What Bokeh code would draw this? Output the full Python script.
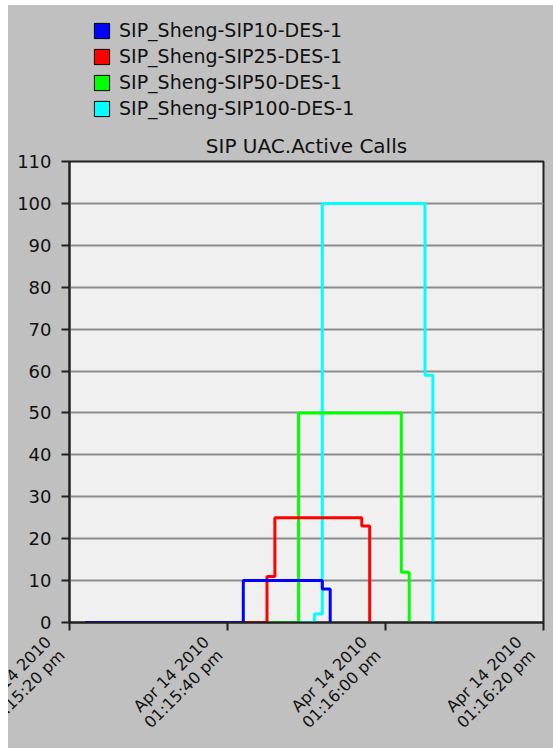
import math

from bokeh.embed import file_html
from bokeh.layouts import column
from bokeh.models import FixedTicker, Legend, LegendItem, Range1d, Title
from bokeh.plotting import figure
from bokeh.resources import INLINE

# Active-call counts per load generator (clock time, calls)
series_names = [
    "SIP_Sheng-SIP10-DES-1",
    "SIP_Sheng-SIP25-DES-1",
    "SIP_Sheng-SIP50-DES-1",
    "SIP_Sheng-SIP100-DES-1",
]
series_colors = ["#0000FF", "#FF0000", "#00FF00", "#00FFFF"]

sip10_times = ["13:15:22", "13:15:42", "13:15:52", "13:15:53"]
sip10_calls = [0, 10, 8, 0]

sip25_times = ["13:15:22", "13:15:45", "13:15:46", "13:15:57", "13:15:58"]
sip25_calls = [0, 11, 25, 23, 0]

sip50_times = ["13:15:22", "13:15:49", "13:16:02", "13:16:03"]
sip50_calls = [0, 50, 12, 0]

sip100_times = ["13:15:22", "13:15:51", "13:15:52", "13:16:05", "13:16:06"]
sip100_calls = [0, 2, 100, 59, 0]

tick_times = ["13:15:20", "13:15:40", "13:16:00", "13:16:20"]
tick_dates = ["Apr 14 2010"] * 4
tick_clock = ["01:15:20 pm", "01:15:40 pm", "01:16:00 pm", "01:16:20 pm"]
y_ticks = list(range(0, 111, 10))

chart_title = "SIP UAC.Active Calls"


def secs(clock):
    h, m, s = (int(v) for v in clock.split(":"))
    return h * 3600 + m * 60 + s


FONT = "DejaVu Sans"
INK = "#111111"
PANEL = "#C0C0C0"
PAD = "\u00a0" * 4  # trailing room so the slanted labels end at their tick
NAN = float("nan")
BLEED = 48  # the chart canvas runs this far past the left edge of the page box

x_ticks = [secs(t) for t in tick_times]
x_labels = [f"{d}{PAD}\n{c}{PAD}" for d, c in zip(tick_dates, tick_clock)]

# ---- header strip: legend ----
head = figure(
    width=545, height=122, output_backend="svg", toolbar_location=None,
    x_range=Range1d(0, 1), y_range=Range1d(0, 1),
    x_axis_type=None, y_axis_type=None,
    min_border=0, min_border_left=0, min_border_right=0,
    min_border_top=0, min_border_bottom=0,
)
head.frame_align = False
head.grid.visible = False
head.outline_line_color = None
head.background_fill_color = PANEL
head.border_fill_color = PANEL

items = []
for name, color in zip(series_names, series_colors):
    # swatch-only renderer: it carries the colour, its geometry is empty
    r = head.quad(left=[NAN], right=[NAN], top=[NAN], bottom=[NAN],
                  fill_color=color, line_color="black", line_width=1)
    items.append(LegendItem(label=name, renderers=[r]))

legend = Legend(
    items=items,
    location=(84, 8),
    padding=0,
    margin=0,
    spacing=4,
    glyph_width=19,
    glyph_height=19,
    label_height=22,
    label_standoff=8,
    label_text_font=FONT,
    label_text_font_size="19px",
    label_text_color=INK,
    border_line_alpha=0,
    background_fill_alpha=0,
)
head.add_layout(legend, "center")

# ---- main chart ----
chart_w = 545 + BLEED
p = figure(
    width=chart_w,
    height=621,
    output_backend="svg",
    toolbar_location=None,
    x_range=Range1d(x_ticks[0], x_ticks[-1]),
    y_range=Range1d(0, 110),
    min_border_left=61 + BLEED,
    min_border_right=10,
    min_border_top=0,
    min_border_bottom=126,
)
p.margin = (0, 0, 0, -BLEED)
p.styles = {"max-width": "none", "min-width": f"{chart_w}px"}
p.frame_align = False
p.title = Title(
    text=chart_title, align="center", standoff=8,
    text_font=FONT, text_font_size="20px", text_font_style="normal",
    text_color=INK,
)
p.border_fill_color = PANEL
p.background_fill_color = "#F0F0F0"
p.outline_line_color = "#202020"
p.outline_line_width = 2

# horizontal grid only
p.xgrid.visible = False
p.ygrid.ticker = FixedTicker(ticks=y_ticks)
p.ygrid.grid_line_color = "#8C8C8C"
p.ygrid.grid_line_width = 2

# axes
p.yaxis.ticker = FixedTicker(ticks=y_ticks)
p.xaxis.ticker = FixedTicker(ticks=x_ticks)
p.xaxis.major_label_overrides = dict(zip(x_ticks, x_labels))
p.xaxis.major_label_orientation = math.pi / 4
for ax in (p.xaxis, p.yaxis):
    ax.axis_line_color = "#202020"
    ax.axis_line_width = 2
    ax.major_tick_line_color = "#202020"
    ax.major_tick_line_width = 2
    ax.major_tick_in = 0
    ax.major_tick_out = 8
    ax.minor_tick_line_color = None
    ax.major_label_text_font = FONT
    ax.major_label_text_color = INK
p.yaxis.major_label_text_font_size = "18px"
p.yaxis.major_label_standoff = 10
p.xaxis.major_label_text_font_size = "16px"
p.xaxis.major_label_text_line_height = 1.0
p.xaxis.major_label_standoff = 1

# step traces, drawn so the smallest load ends up on top
series = [
    (sip10_times, sip10_calls),
    (sip25_times, sip25_calls),
    (sip50_times, sip50_calls),
    (sip100_times, sip100_calls),
]
for (times, calls), color in reversed(list(zip(series, series_colors))):
    p.step([secs(t) for t in times], calls, mode="after",
           line_color=color, line_width=3)

page = column(head, p, spacing=0)
page.margin = (5, 0, 0, 8)
page.styles = {"background-color": PANEL, "overflow": "hidden"}

open("out.html", "w").write(file_html(page, INLINE))
